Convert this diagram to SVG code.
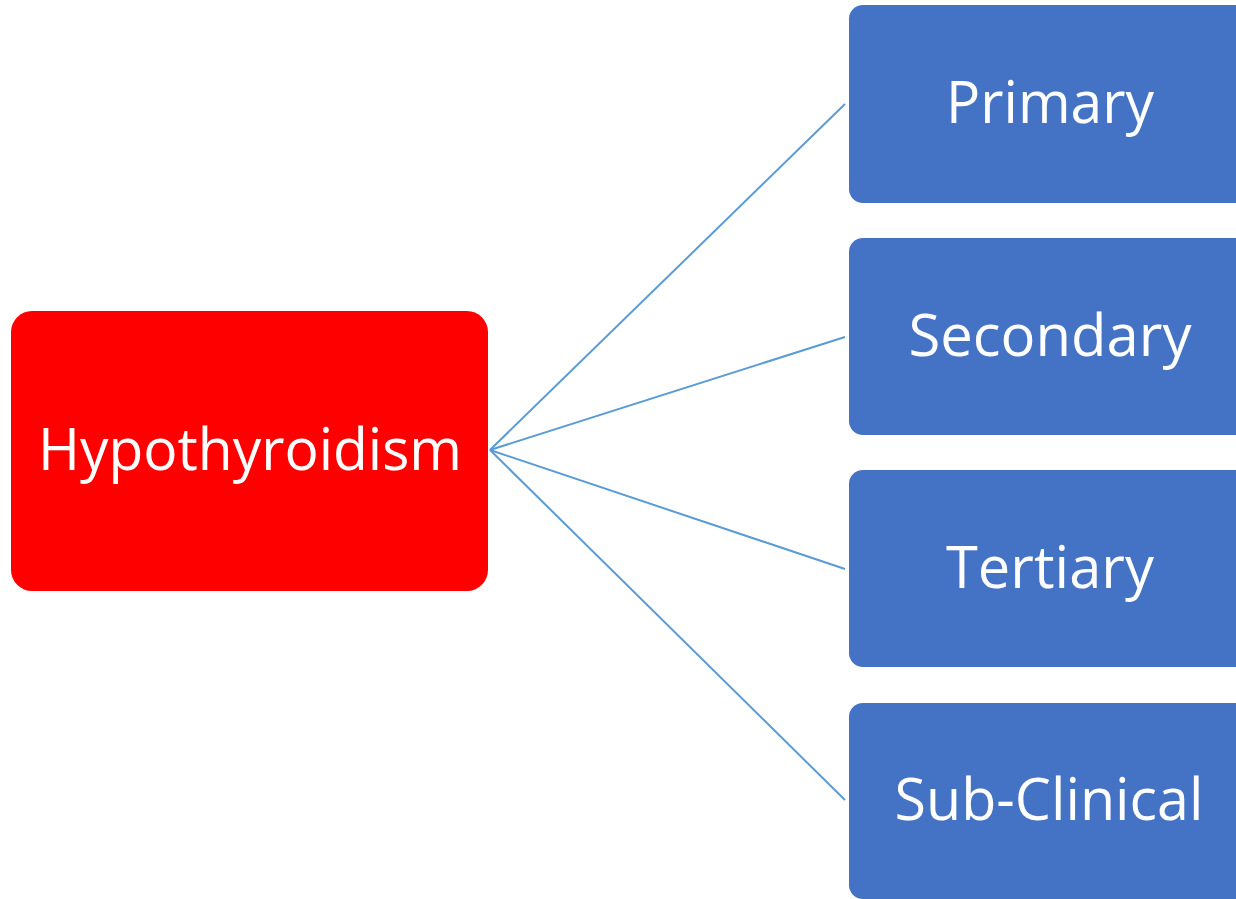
<svg xmlns="http://www.w3.org/2000/svg" width="1236" height="899" viewBox="0 0 1236 899">
  <style>
    .root { fill: #FF0000; }
    .leaf { fill: #4472C4; }
    .lbl { fill: #FFFFFF; font-family: "Open Sans", "Noto Sans", "Liberation Sans", sans-serif; font-size: 58px; text-anchor: middle; }
    .conn { stroke: #5B9BD5; stroke-width: 2; fill: none; }
  </style>
  <rect width="1236" height="899" fill="#FFFFFF"/>

  <!-- connectors from the root to each type -->
  <g id="connectors">
    <line class="conn" x1="490" y1="450" x2="845" y2="104"/>
    <line class="conn" x1="490" y1="450" x2="845" y2="337"/>
    <line class="conn" x1="490" y1="450" x2="845" y2="569"/>
    <line class="conn" x1="490" y1="450" x2="845" y2="800"/>
  </g>

  <g id="hypothyroidism">
    <rect class="root" x="11" y="311" width="477" height="280" rx="21" ry="21"/>
    <text class="lbl" x="250" y="470" textLength="424" lengthAdjust="spacingAndGlyphs">Hypothyroidism</text>
  </g>

  <g id="primary">
    <rect class="leaf" x="849" y="5" width="400" height="198" rx="14" ry="14"/>
    <text class="lbl" x="1050" y="123" textLength="208" lengthAdjust="spacingAndGlyphs">Primary</text>
  </g>

  <g id="secondary">
    <rect class="leaf" x="849" y="238" width="400" height="197" rx="14" ry="14"/>
    <text class="lbl" x="1050" y="356" textLength="283" lengthAdjust="spacingAndGlyphs">Secondary</text>
  </g>

  <g id="tertiary">
    <rect class="leaf" x="849" y="470" width="400" height="197" rx="14" ry="14"/>
    <text class="lbl" x="1050" y="588" textLength="208" lengthAdjust="spacingAndGlyphs">Tertiary</text>
  </g>

  <g id="sub-clinical">
    <rect class="leaf" x="849" y="703" width="400" height="196" rx="14" ry="14"/>
    <text class="lbl" x="1049" y="820" textLength="309" lengthAdjust="spacingAndGlyphs">Sub-Clinical</text>
  </g>
</svg>
